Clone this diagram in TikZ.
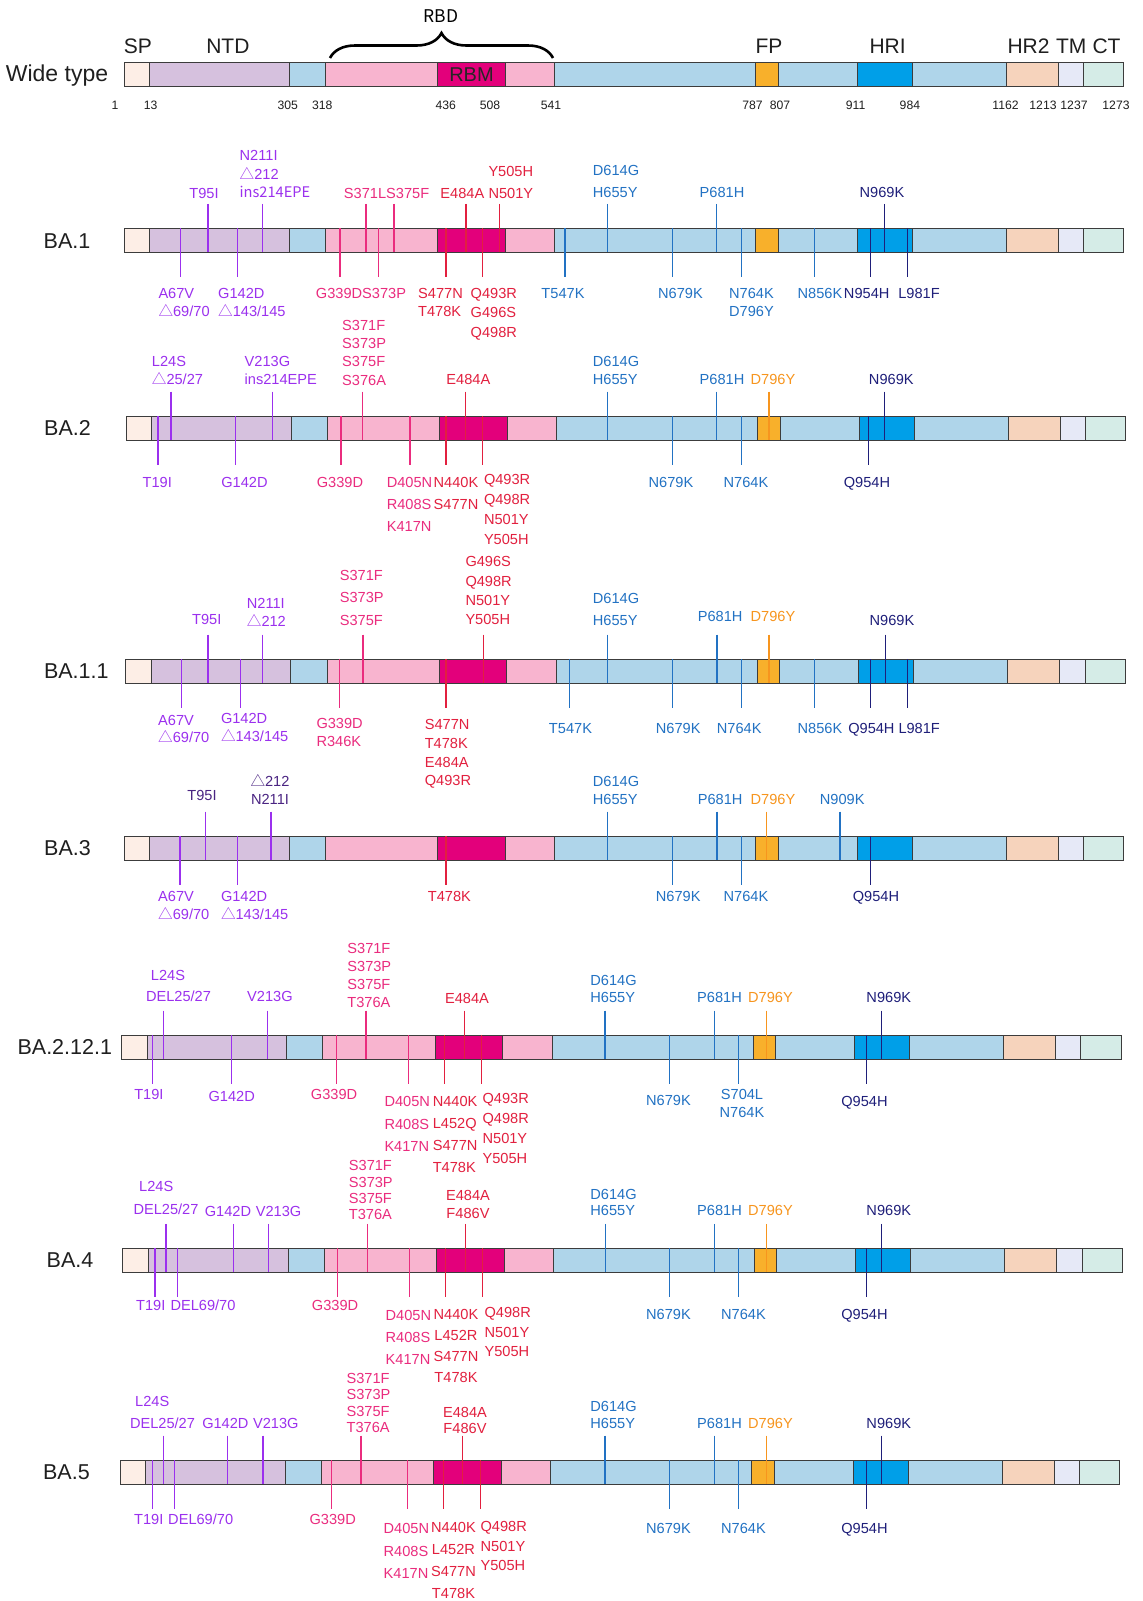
\documentclass[tikz,border=0pt]{standalone}
\usepackage{fontspec}
\setmainfont{Liberation Sans}
\newfontfamily\cjk{Noto Sans CJK SC}
\usetikzlibrary{decorations.pathreplacing}
\definecolor{cSP}{HTML}{FDEEE6}
\definecolor{cNTD}{HTML}{D6C1DE}
\definecolor{cBlu}{HTML}{AFD5EA}
\definecolor{cRBD}{HTML}{F8B4CF}
\definecolor{cRBM}{HTML}{E3007B}
\definecolor{cFP}{HTML}{F8B02B}
\definecolor{cHR1}{HTML}{009FE8}
\definecolor{cHR2}{HTML}{F6D3BC}
\definecolor{cTM}{HTML}{E6E9F7}
\definecolor{cCT}{HTML}{D5ECE7}
\definecolor{bord}{HTML}{3C3C3C}
\definecolor{mV}{HTML}{9B30EE}
\definecolor{mD}{HTML}{4A2482}
\definecolor{mP}{HTML}{EA2C7E}
\definecolor{mR}{HTML}{E2203F}
\definecolor{mB}{HTML}{2272C3}
\definecolor{mN}{HTML}{1F1F7A}
\definecolor{mO}{HTML}{F7951E}
\newcommand\tri{{\cjk △}}
\newcounter{lb}
\newcommand\ml[5]{\stepcounter{lb}\foreach \lt [count=\i] in {#5}{\node[lab,#4] (L\thelb-\i) at (#1,{-(#2+(\i-1)*(#3))}) {\lt};}}
\newcommand\tks[3]{%
 \foreach \x/\c in {#2}{\draw[tick,color=\c] (\x,{-(#1-24.5)}) -- (\x,{-(#1+24)});}%
 \foreach \x/\c in {#3}{\draw[tick,color=\c] (\x,-#1) -- (\x,{-(#1+48.5)});}}
\newcommand\sbar[2]{\foreach \a/\b/\c in {124/149.8/cSP,149.8/289.3/cNTD,289.3/325.5/cBlu,325.5/437.6/cRBD,437.6/505.3/cRBM,505.3/554.9/cRBD,554.9/755.9/cBlu,755.9/778.2/cFP,778.2/857.1/cBlu,857.1/912.1/cHR1,912.1/1006.2/cBlu,1006.2/1058.2/cHR2,1058.2/1083.5/cTM,1083.5/1123.6/cCT}{\path[seg,fill=\c] ({\a+(#1)},-#2) rectangle ({\b+(#1)},{-(#2+24)});}}
\tikzset{
 seg/.style={draw=bord,line width=1pt},
 tick/.style={line width=1.15pt},
 lab/.style={inner sep=0pt,font=\fontsize{14.6}{17}\selectfont,text height=10.4pt,text depth=0pt},
 rowl/.style={inner sep=0pt,font=\fontsize{21.5}{25}\selectfont,text height=15.4pt,text depth=0pt,text=black!88},
 dom/.style={inner sep=0pt,font=\fontsize{21}{25}\selectfont,text height=15pt,text depth=0pt,text=black!88},
 num/.style={inner sep=0pt,font=\fontsize{12.2}{15}\selectfont,text height=8.8pt,text depth=0pt,text=black!88},
}
\begin{document}
\begin{tikzpicture}[x=1pt,y=1pt]
\useasboundingbox (0,0) rectangle (1143,-1601);
\fill[white] (0,0) rectangle (1143,-1601);
% ---------------- Wild type
\sbar{0}{62}
\node[rowl,font=\fontsize{23}{27}\selectfont,text height=16.5pt] (wt) at (57,-73) {Wide type};
\node[inner sep=0pt,font=\fontsize{20}{24}\selectfont,text height=14.3pt,text depth=0pt,text=black!85] (rbm) at (471.5,-74) {RBM};
\foreach \x/\t [count=\i] in {137.8/SP,227.9/NTD,769/FP,887.6/HRI,1028.5/HR2,1071.2/TM,1106.5/CT}{\node[dom] (D\i) at (\x,-46) {\t};}
\foreach \x/\t [count=\i] in {115/1,150.6/13,287.8/305,322.2/318,445.7/436,490/508,551/541,752.5/787,780/807,855.6/911,909.9/984,1005.5/1162,1043/1213,1074/1237,1116/1273}{\node[num] (N\i) at (\x,-105) {\t};}
\draw[line width=2.6pt,decorate,decoration={brace,amplitude=25pt,aspect=0.5}] (330,-58) -- (553,-58);
\node[inner sep=0pt,font=\cjk\fontsize{17.5}{20}\selectfont] (rbd) at (441,-16) {RBD};
% ---------------- BA.1
\sbar{0}{228.3}
\node[rowl] (r1) at (67,-240.5) {BA.1};
\tks{228.3}{208/mV,262.6/mV,366/mP,394/mP,466/mR,499.4/mR,607.6/mB,716.9/mB,884.6/mN}{180.5/mV,237.5/mV,340/mP,378.4/mP,446/mR,482.7/mR,565/mB,672.3/mB,741.4/mB,814.7/mB,870.4/mN,907.6/mN}
\ml{204}{193}{0}{mV}{T95I}
\ml{239.5}{155}{18.8}{mV,anchor=west}{N211I,\tri 212,{\cjk ins214EPE}}
\ml{386.6}{193}{0}{mP}{S371LS375F}
\ml{462.4}{193}{0}{mR}{E484A}
\ml{488.3}{171.7}{21.3}{mR,anchor=west}{Y505H,N501Y}
\ml{592.7}{170.7}{21.3}{mB,anchor=west}{D614G,H655Y}
\ml{722}{192}{0}{mB}{P681H}
\ml{882}{192}{0}{mN}{N969K}
\ml{158.3}{293.3}{18.4}{mV,anchor=west}{A67V,\tri 69/70}
\ml{218}{293.3}{18.4}{mV,anchor=west}{G142D,\tri 143/145}
\ml{361}{293.3}{0}{mP}{G339DS373P}
\ml{418}{293.3}{18.4}{mR,anchor=west}{S477N,T478K}
\ml{470.5}{293.3}{19.3}{mR,anchor=west}{Q493R,G496S,Q498R}
\ml{563}{293.3}{0}{mB}{T547K}
\ml{680.5}{293.3}{0}{mB}{N679K}
\ml{729}{293.3}{18.4}{mB,anchor=west}{N764K,D796Y}
\ml{820}{293.3}{0}{mB}{N856K}
\ml{866.7}{293.3}{0}{mN}{N954H}
\ml{919}{293.3}{0}{mN}{L981F}
% ---------------- BA.2
\sbar{2}{416}
\node[rowl] (r2) at (67.5,-428) {BA.2};
\tks{416}{171/mV,272.6/mV,362.5/mP,465.7/mR,607.6/mB,716.9/mB,769/mO,884.2/mN}{158/mV,235.6/mV,341/mP,410/mP,446/mR,482.7/mR,672.3/mB,741.4/mB,868.6/mN}
\ml{151.7}{361.7}{17.6}{mV,anchor=west}{L24S,\tri 25/27}
\ml{244.5}{361.7}{17.6}{mV,anchor=west}{V213G,ins214EPE}
\ml{342}{325}{18.3}{mP,anchor=west}{S371F,S373P,S375F,S376A}
\ml{468.4}{379.3}{0}{mR}{E484A}
\ml{592.7}{361.7}{17.6}{mB,anchor=west}{D614G,H655Y}
\ml{722}{379.3}{0}{mB}{P681H}
\ml{773}{379.3}{0}{mO}{D796Y}
\ml{891.3}{379.3}{0}{mN}{N969K}
\ml{157.2}{482.7}{0}{mV}{T19I}
\ml{244.5}{482.7}{0}{mV}{G142D}
\ml{340}{482.7}{0}{mP}{G339D}
\ml{386.6}{482.7}{22}{mP,anchor=west}{D405N,R408S,K417N}
\ml{433.5}{482.7}{21.2}{mR,anchor=west}{N440K,S477N}
\ml{483.8}{479.3}{19.9}{mR,anchor=west}{Q493R,Q498R,N501Y,Y505H}
\ml{671}{482.7}{0}{mB}{N679K}
\ml{746}{482.7}{0}{mB}{N764K}
\ml{867}{482.7}{0}{mN}{Q954H}
% ---------------- BA.1.1
\sbar{1.5}{659}
\node[rowl] (r3) at (76.3,-671) {BA.1.1};
\tks{659}{208/mV,262.6/mV,363/mP,483.5/mR,607.6/mB,717/mB,769/mO,885.7/mN}{181.3/mV,240.4/mV,339.6/mP,446/mR,569.5/mB,672.3/mB,741.4/mB,814.7/mB,870.8/mN,907.6/mN}
\ml{206.8}{619.3}{0}{mV}{T95I}
\ml{246.7}{603.3}{17.7}{mV,anchor=west}{N211I,\tri 212}
\ml{339.6}{575}{22.5}{mP,anchor=west}{S371F,S373P,S375F}
\ml{465.3}{561.7}{19.2}{mR,anchor=west}{G496S,Q498R,N501Y,Y505H}
\ml{592.7}{598.3}{21.7}{mB,anchor=west}{D614G,H655Y}
\ml{720.2}{616}{0}{mB}{P681H}
\ml{773}{616}{0}{mO}{D796Y}
\ml{892}{620}{0}{mN}{N969K}
\ml{158}{720}{17.7}{mV,anchor=west}{A67V,\tri 69/70}
\ml{220.8}{718.3}{18.4}{mV,anchor=west}{G142D,\tri 143/145}
\ml{316.3}{723.3}{17.7}{mP,anchor=west}{G339D,R346K}
\ml{424.6}{724.3}{18.8}{mR,anchor=west}{S477N,T478K,E484A,Q493R}
\ml{570.5}{728.3}{0}{mB}{T547K}
\ml{678.2}{728.3}{0}{mB}{N679K}
\ml{739.2}{728.3}{0}{mB}{N764K}
\ml{820}{728.3}{0}{mB}{N856K}
\ml{871.4}{728.3}{0}{mN}{Q954H}
\ml{919.2}{728.3}{0}{mN}{L981F}
% ---------------- BA.3
\sbar{0}{836}
\node[rowl] (r4) at (67.5,-848) {BA.3};
\tks{836}{205.3/mV,271/mV,607.6/mB,717/mB,766.4/mO,840/mB}{180/mV,237.5/mV,446/mR,672.3/mB,741.4/mB,870.8/mN}
\ml{202}{795}{0}{mD}{T95I}
\ml{270}{781.7}{17.3}{mD}{\tri 212,N211I}
\ml{592.7}{781.7}{17.3}{mB,anchor=west}{D614G,H655Y}
\ml{720.2}{799}{0}{mB}{P681H}
\ml{773}{799}{0}{mO}{D796Y}
\ml{842.2}{799}{0}{mB}{N909K}
\ml{158}{896.7}{17.3}{mV,anchor=west}{A67V,\tri 69/70}
\ml{220.8}{896.7}{17.3}{mV,anchor=west}{G142D,\tri 143/145}
\ml{449.4}{896.7}{0}{mR}{T478K}
\ml{678.2}{896.7}{0}{mB}{N679K}
\ml{746}{896.7}{0}{mB}{N764K}
\ml{876}{896.7}{0}{mN}{Q954H}
% ---------------- BA.2.12.1
\sbar{-2.6}{1035}
\node[rowl] (r5) at (64.8,-1047) {BA.2.12.1};
\tks{1035}{163.7/mV,267.7/mV,366/mP,464.2/mR,605/mB,714.4/mB,766.5/mO,881.7/mN}{152.6/mV,231.7/mV,336.5/mP,408.8/mP,444.8/mR,481.6/mR,669.8/mB,738.9/mB,866.1/mN}
\ml{168}{975}{0}{mV}{L24S}
\ml{178.5}{996.7}{0}{mV}{DEL25/27}
\ml{269.9}{996.7}{0}{mV}{V213G}
\ml{347.2}{948.3}{18.1}{mP,anchor=west}{S371F,S373P,S375F,T376A}
\ml{467}{998.3}{0}{mR}{E484A}
\ml{590.2}{980.7}{16.3}{mB,anchor=west}{D614G,H655Y}
\ml{719.5}{997}{0}{mB}{P681H}
\ml{770.5}{997}{0}{mO}{D796Y}
\ml{888.8}{997}{0}{mN}{N969K}
\ml{148.9}{1094.3}{0}{mV}{T19I}
\ml{231.7}{1096}{0}{mV}{G142D}
\ml{334.1}{1094.3}{0}{mP}{G339D}
\ml{384.3}{1101.7}{22.2}{mP,anchor=west}{D405N,R408S,K417N}
\ml{432.6}{1101.7}{21.7}{mR,anchor=west}{N440K,L452Q,S477N,T478K}
\ml{482.4}{1098.3}{20}{mR,anchor=west}{Q493R,Q498R,N501Y,Y505H}
\ml{668.5}{1100}{0}{mB}{N679K}
\ml{742}{1094}{18.3}{mB}{S704L,N764K}
\ml{864.5}{1101}{0}{mN}{Q954H}
% ---------------- BA.4
\sbar{-1.3}{1248.3}
\node[rowl] (r6) at (70,-1260) {BA.4};
\tks{1248.3}{166/mV,233.3/mV,268.9/mV,367.3/mP,465.4/mR,605.7/mB,714.4/mB,766.5/mO,881.7/mN}{155/mV,177.1/mV,337.7/mP,409.6/mP,445.6/mR,482.4/mR,669.8/mB,738.9/mB,866.1/mN}
\ml{156.2}{1186.7}{0}{mV}{L24S}
\ml{166}{1209.3}{0}{mV}{DEL25/27}
\ml{228}{1211}{0}{mV}{G142D}
\ml{278.6}{1211}{0}{mV}{V213G}
\ml{348.7}{1165.7}{16.2}{mP,anchor=west}{S371F,S373P,S375F,T376A}
\ml{468}{1195.7}{17.6}{mR}{E484A,F486V}
\ml{590.2}{1194}{16.4}{mB,anchor=west}{D614G,H655Y}
\ml{719.5}{1210.4}{0}{mB}{P681H}
\ml{770.5}{1210.4}{0}{mO}{D796Y}
\ml{888.8}{1210.4}{0}{mN}{N969K}
\ml{150.8}{1305}{0}{mV}{T19I}
\ml{203}{1305}{0}{mV}{DEL69/70}
\ml{335.1}{1305}{0}{mP}{G339D}
\ml{385.5}{1315}{22.2}{mP,anchor=west}{D405N,R408S,K417N}
\ml{456}{1314}{21.1}{mR}{N440K,L452R,S477N,T478K}
\ml{484.4}{1312.3}{19.7}{mR,anchor=west}{Q498R,N501Y,Y505H}
\ml{668.5}{1314.5}{0}{mB}{N679K}
\ml{743.5}{1314.5}{0}{mB}{N764K}
\ml{864.5}{1314.5}{0}{mN}{Q954H}
% ---------------- BA.5
\sbar{-4}{1460}
\node[rowl] (r7) at (66.4,-1472) {BA.5};
\tks{1460}{163.3/mV,227.4/mV,263/mV,361/mP,462.6/mR,605/mB,714.4/mB,766.5/mO,881.7/mN}{152.2/mV,174.4/mV,331.7/mP,407.7/mP,443.2/mR,480.4/mR,669.8/mB,738.9/mB,866.1/mN}
\ml{152.2}{1401}{0}{mV}{L24S}
\ml{162.5}{1423.3}{0}{mV}{DEL25/27}
\ml{225.4}{1423.3}{0}{mV}{G142D}
\ml{275.8}{1423.3}{0}{mV}{V213G}
\ml{346.4}{1378.3}{16.4}{mP,anchor=west}{S371F,S373P,S375F,T376A}
\ml{465}{1412.5}{15.5}{mR}{E484A,F486V}
\ml{590.2}{1406.5}{16.5}{mB,anchor=west}{D614G,H655Y}
\ml{719.5}{1423}{0}{mB}{P681H}
\ml{770.5}{1423}{0}{mO}{D796Y}
\ml{888.8}{1423}{0}{mN}{N969K}
\ml{148.7}{1519.3}{0}{mV}{T19I}
\ml{200.7}{1519.3}{0}{mV}{DEL69/70}
\ml{332.7}{1519.3}{0}{mP}{G339D}
\ml{383.5}{1528.3}{22.5}{mP,anchor=west}{D405N,R408S,K417N}
\ml{453.5}{1527.7}{21.9}{mR}{N440K,L452R,S477N,T478K}
\ml{480.4}{1526.7}{19.5}{mR,anchor=west}{Q498R,N501Y,Y505H}
\ml{668.5}{1528}{0}{mB}{N679K}
\ml{743.5}{1528}{0}{mB}{N764K}
\ml{864.5}{1528}{0}{mN}{Q954H}
\end{tikzpicture}
\end{document}
